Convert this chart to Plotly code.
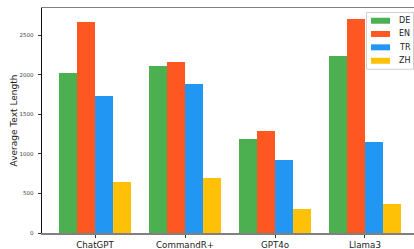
import plotly.graph_objects as go

models = ["ChatGPT", "CommandR+", "GPT4o", "Llama3"]
languages = ["DE", "EN", "TR", "ZH"]
de_vals = [2019, 2107, 1189, 2245]
en_vals = [2673, 2170, 1289, 2711]
tr_vals = [1730, 1881, 925, 1151]
zh_vals = [648, 698, 308, 371]
colors = ["#4CAF50", "#FF5722", "#2196F3", "#FFC107"]
y_ticks = [0, 500, 1000, 1500, 2000, 2500]

series = [de_vals, en_vals, tr_vals, zh_vals]
W, H = 414, 249
L, R, T, B = 42, 0, 7.5, 15.5
pw, ph = W - L - R, H - T - B

fig = go.Figure()
bw = 0.2
for i, (lang, vals, col) in enumerate(zip(languages, series, colors)):
    fig.add_trace(go.Bar(
        x=[k + (i - 1.5) * bw for k in range(len(models))],
        y=vals, width=bw, name=lang, marker=dict(color=col, line=dict(width=0)),
        showlegend=False, hoverinfo="skip",
    ))

# custom matplotlib-like legend
def px2x(px):
    return (px - L) / pw

def py2y(py):
    return (H - B - py) / ph

fig.add_shape(type="rect", xref="paper", yref="paper",
              x0=px2x(366.5), x1=px2x(413.5), y0=py2y(69), y1=py2y(12),
              line=dict(color="#d0d0d0", width=1), fillcolor="rgba(255,255,255,0.85)", layer="above")
entry_y = [20.3, 33.6, 47, 60.5]
for lang, col, ey in zip(languages, colors, entry_y):
    fig.add_shape(type="rect", xref="paper", yref="paper",
                  x0=px2x(371), x1=px2x(390), y0=py2y(ey + 3), y1=py2y(ey - 3),
                  line=dict(width=0), fillcolor=col, layer="above")
    fig.add_annotation(x=px2x(396.5), y=py2y(ey), xref="paper", yref="paper",
                       text=lang, showarrow=False, xanchor="left", yanchor="middle",
                       font=dict(size=8, color="#222"))

fig.update_layout(
    width=W, height=H,
    margin=dict(l=L, r=R, t=T, b=B, pad=0),
    paper_bgcolor="white", plot_bgcolor="white",
    barmode="overlay", bargap=0,
    font=dict(family="DejaVu Sans", color="#222"),
    xaxis=dict(
        range=[-0.59, 3.545], tickmode="array", tickvals=list(range(len(models))),
        ticktext=models, ticks="outside", ticklen=3, tickcolor="#333", tickwidth=1,
        showgrid=False, zeroline=False, showline=True, linecolor="#808080", linewidth=1.5,
        mirror=True, tickfont=dict(size=8.7, color="#222"),
    ),
    yaxis=dict(
        range=[0, 2847], tickmode="array", tickvals=y_ticks,
        ticks="outside", ticklen=3.5, tickcolor="#333", tickwidth=1,
        ticklabelstandoff=3,
        showgrid=False, zeroline=False, showline=True, linecolor="#111", linewidth=1,
        tickfont=dict(size=5.5, color="#444"),
        title=dict(text="Average Text Length", font=dict(size=9, color="#222"), standoff=0),
    ),
)

fig.write_html("out.html", config={"displayModeBar": False, "staticPlot": True},
               post_script="document.body.style.margin='0';document.body.style.overflow='hidden';")
